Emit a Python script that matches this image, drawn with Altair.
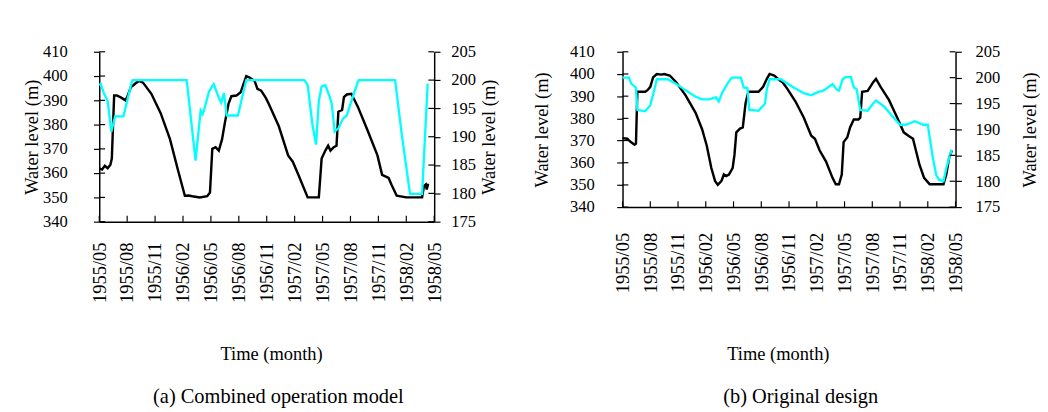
import json
import altair as alt
import pandas as pd

FONT = "Liberation Serif"

tick_labels = ["1955/05", "1955/08", "1955/11", "1956/02", "1956/05", "1956/08", "1956/11",
               "1957/02", "1957/05", "1957/08", "1957/11", "1958/02", "1958/05"]
left_ticks = [340, 350, 360, 370, 380, 390, 400, 410]
right_ticks = [175, 180, 185, 190, 195, 200, 205]

# months since 1955/05
a_black_t = [0, 0.3, 0.6, 0.9, 1.2, 1.35, 1.6, 1.9, 2.4, 2.8, 3.0, 3.4, 3.6, 4.0, 4.3, 4.7, 5.6, 6.6,
             7.6, 8.5, 9.2, 9.6, 10.0, 10.8, 11.6, 11.9, 12.15, 12.5, 12.85, 13.2, 13.5, 13.9, 14.2,
             14.75, 15.2, 15.5, 15.8, 16.2, 16.7, 17.0, 17.4, 17.9, 18.2, 19.3, 20.3, 20.8, 21.4,
             22.4, 23.6, 23.9, 24.3, 24.6, 24.85, 25.2, 25.5, 25.7, 26.1, 26.3, 26.6, 27.1, 27.8,
             28.8, 29.9, 30.4, 31.1, 31.4, 31.97, 33.0, 34.7, 34.9, 35.1, 35.2, 35.35]
a_black_v = [362, 361.5, 363, 362, 363.5, 366, 392, 392, 391, 390, 391.3, 395.5, 396, 397.3, 398,
             397.3, 392.7, 384.7, 374, 360.7, 350.7, 350.8, 350.5, 350, 350.5, 352, 370, 370.7,
             369.3, 374, 380.7, 388.7, 391.7, 392, 393.3, 396.7, 400, 399.3, 398, 394.7, 394, 391,
             388.7, 379.3, 367.3, 364.7, 359.3, 350, 350, 366, 369.3, 371.3, 369.3, 370.7, 371.3,
             385.3, 386, 391.3, 392.4, 392.7, 387.3, 378, 367.3, 359.3, 358, 355.3, 350.7, 350, 350,
             354.7, 355.3, 353.3, 355.6]
a_cyan_t = [0, 0.15, 0.5, 0.9, 1.3, 1.7, 2.6, 3.5, 3.6, 9.4, 10.35, 10.9, 11.1, 11.25, 11.8, 12.3,
            12.85, 13.1, 13.4, 13.7, 14.9, 15.8, 22.05, 22.4, 22.9, 23.3, 23.6, 23.9, 24.3, 24.8,
            25.0, 25.3, 25.7, 26.2, 26.6, 27.1, 27.8, 27.9, 31.8, 32.5, 33.4, 34.7, 35.3]
a_cyan_v = [199.1, 199.3, 197.7, 196.3, 190.9, 193.6, 193.6, 199.7, 200, 200, 185.8, 194.6, 194,
            194.6, 198, 199.3, 196.9, 196, 197.7, 193.75, 193.75, 200, 200, 199.1, 192.3, 188.6,
            196.3, 198.9, 199.1, 196.9, 195.7, 190.9, 191.5, 193.2, 193.75, 196.3, 199.7, 200, 200,
            190.6, 179.9, 179.9, 199.4]

b_black_t = [0, 0.5, 0.9, 1.3, 1.45, 1.6, 2.45, 2.7, 3.0, 3.3, 3.7, 4.2, 4.5, 5.1, 5.8, 6.8, 7.9,
             8.6, 9.1, 9.6, 10.0, 10.3, 10.7, 10.95, 11.2, 11.5, 11.9, 12.1, 12.3, 12.7, 13.0, 13.3,
             13.6, 14.7, 15.2, 15.6, 15.9, 16.4, 17.0, 17.3, 17.8, 18.7, 19.6, 20.4, 20.8, 21.3,
             22.0, 22.7, 23.05, 23.4, 23.7, 23.9, 24.3, 24.6, 25.0, 25.5, 25.7, 25.9, 26.5, 27.1,
             27.4, 27.9, 28.8, 29.7, 30.4, 30.9, 31.4, 32.1, 32.6, 33.2, 34.7, 35.0, 35.3, 35.6]
b_black_v = [371.1, 370.8, 369.3, 368.1, 368.6, 392, 392, 392.7, 394.2, 398.5, 400, 399.7, 400,
             399.3, 396.3, 390.5, 382.5, 375.1, 367.8, 357.6, 351.8, 350, 351.8, 354.7, 354, 354.7,
             357.6, 363.5, 373.7, 375.4, 375.9, 386.8, 392, 392, 394.2, 397.8, 400, 399.3, 397.1,
             396.3, 393.4, 387.6, 380.3, 372.2, 370.8, 365.6, 360.5, 353.2, 350.3, 350.3, 354.7,
             369.3, 371.5, 375.9, 379.5, 379.5, 380.3, 392, 392.4, 396.3, 397.8, 394.2, 388.3,
             380.3, 373.7, 372.2, 370.8, 359.1, 353.2, 350.3, 350.3, 354.7, 362, 365.6]
b_cyan_t = [0, 0.7, 0.95, 1.45, 1.6, 2.45, 3.0, 3.5, 3.7, 4.9, 5.8, 6.8, 7.9, 8.6, 9.3, 10.1, 10.4,
            10.8, 11.4, 11.8, 12.8, 13.1, 13.5, 13.7, 14.7, 15.4, 15.6, 15.9, 17.1, 18.5, 19.6, 20.4,
            21.1, 21.7, 22.2, 22.7, 23.2, 23.4, 23.8, 24.1, 24.7, 25.0, 25.3, 25.7, 26.5, 27.1, 27.4,
            28.3, 29.2, 30.0, 30.6, 31.6, 32.5, 33.0, 33.5, 33.9, 34.2, 34.7, 35.0, 35.3, 35.6]
b_cyan_v = [200, 200, 198.8, 198.1, 193.8, 193.5, 194.7, 198.1, 199.7, 199.7, 198.8, 197.6, 196.3,
            195.8, 195.8, 196.2, 195.4, 197.2, 199, 200, 200, 198.1, 198, 193.8, 193.6, 195, 197.8,
            199.7, 199.7, 198.1, 197, 196.6, 197.2, 197.5, 198.1, 198.75, 197.6, 197.5, 199.7,
            200.1, 200.1, 198.1, 197.8, 193.75, 193.6, 195, 195.6, 194.4, 192.5, 190.9, 190.9,
            191.6, 190.9, 190.9, 185, 181.25, 180.3, 180, 182.5, 184.4, 186.1]

label_expr = json.dumps(tick_labels) + "[round(datum.value / 3)]"
xtick_pos = [3 * i for i in range(len(tick_labels))]


def panel(bt, bv, ct, cv, w, h, caption, p):
    black_df = pd.DataFrame({"t": bt, "level": bv})
    cyan_df = pd.DataFrame({"t": ct, "level2": cv})
    xt_df = pd.DataFrame({"t": xtick_pos})
    lt_df = pd.DataFrame({"level": left_ticks})
    rt_df = pd.DataFrame({"level2": right_ticks})

    xscale = alt.Scale(domain=[0, 36], nice=False, zero=False)
    lscale = alt.Scale(domain=[340, 410], nice=False, zero=False)
    rscale = alt.Scale(domain=[175, 205], nice=False, zero=False)

    xaxis = alt.Axis(values=xtick_pos, labelExpr=label_expr, labelAngle=270, ticks=False,
                     tickSize=0, grid=False, title="Time (month)", labelPadding=p["xlp"],
                     titlePadding=p["xtp"], titleX=p["xtx"], labelFontSize=19,
                     titleFontSize=19, titleFontWeight=400)
    laxis = alt.Axis(values=left_ticks, orient="left", grid=False, title="Water level (m)",
                     tickSize=6, labelPadding=p["llp"], titlePadding=p["ltp"],
                     titleFontWeight=400)
    raxis = alt.Axis(values=right_ticks, orient="right", grid=False, title="Water level (m)",
                     tickSize=6, labelPadding=p["rlp"], titlePadding=p["rtp"],
                     titleAngle=270, titleBaseline="top", titleFontWeight=400)

    black = alt.Chart(black_df).mark_line(color="black", strokeWidth=2.5).encode(
        x=alt.X("t:Q", scale=xscale, axis=xaxis),
        y=alt.Y("level:Q", scale=lscale, axis=laxis),
    )
    xticks = alt.Chart(xt_df).mark_rule(color="black", strokeWidth=1.2).encode(
        x=alt.X("t:Q", scale=xscale, axis=xaxis),
        y=alt.value(h), y2=alt.value(h - 6),
    )
    lticks = alt.Chart(lt_df).mark_rule(color="black", strokeWidth=1.2).encode(
        y=alt.Y("level:Q", scale=lscale, axis=laxis),
        x=alt.value(0), x2=alt.value(6),
    )
    cyan = alt.Chart(cyan_df).mark_line(color="#00FFFF", strokeWidth=2.4).encode(
        x=alt.X("t:Q", scale=xscale, axis=xaxis),
        y=alt.Y("level2:Q", scale=rscale, axis=raxis),
    )
    rticks = alt.Chart(rt_df).mark_rule(color="black", strokeWidth=1.2).encode(
        y=alt.Y("level2:Q", scale=rscale, axis=raxis),
        x=alt.value(w - 6), x2=alt.value(w),
    )
    left_group = alt.layer(black, xticks, lticks)
    right_group = alt.layer(cyan, rticks)
    return alt.layer(left_group, right_group).resolve_scale(y="independent").properties(
        width=w, height=h,
        title=alt.TitleParams(caption, orient="bottom", font=FONT, fontSize=21,
                              fontWeight="normal", color="black", offset=p["cap_off"],
                              frame="group", dx=12),
    )


pa = dict(xlp=21, xtp=44, xtx=177, llp=27, ltp=1, rlp=11, rtp=5, cap_off=24)
pb = dict(xlp=26, xtp=54, xtx=160, llp=23, ltp=19, rlp=14, rtp=22, cap_off=24)

chart_a = panel(a_black_t, a_black_v, a_cyan_t, a_cyan_v, 345, 175,
                "(a) Combined operation model", pa)
chart_b = panel(b_black_t, b_black_v, b_cyan_t, b_cyan_v, 343, 160,
                "(b) Original design", pb)

chart = alt.hconcat(chart_a, chart_b, spacing=34).properties(
    padding={"left": 15, "top": 30, "right": 0, "bottom": 0},
    background="white",
).configure_view(stroke=None).configure_axis(
    domainColor="black", domainWidth=1.5, tickColor="black", tickWidth=1.2,
    labelFont=FONT, labelFontSize=17, labelColor="black",
    titleFont=FONT, titleFontSize=19, titleFontWeight=400, titleColor="black",
)

chart.save("out.html", embed_options={"renderer": "svg", "actions": False})
